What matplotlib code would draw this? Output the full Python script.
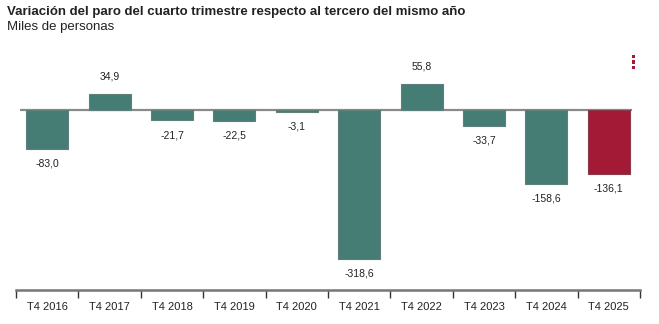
import numpy as np
import matplotlib.pyplot as plt

plt.rcParams['font.family'] = ['Liberation Sans', 'DejaVu Sans']

categories = ['T4 2016', 'T4 2017', 'T4 2018', 'T4 2019', 'T4 2020',
              'T4 2021', 'T4 2022', 'T4 2023', 'T4 2024', 'T4 2025']
values = [-83.0, 34.9, -21.7, -22.5, -3.1, -318.6, 55.8, -33.7, -158.6, -136.1]
labels = ['-83,0', '34,9', '-21,7', '-22,5', '-3,1', '-318,6', '55,8', '-33,7', '-158,6', '-136,1']

teal = '#457d74'
red = '#a31a36'
colors = [teal] * 9 + [red]
edges = ['#5f7f7a'] * 9 + ['#8a3a4a']

fig = plt.figure(figsize=(6.59, 3.24), dpi=100)
ax = fig.add_axes([16 / 659, 34 / 324, 624 / 659, (290 - 34) / 324])

x = np.arange(len(categories))
ax.bar(x, values, width=0.67, color=colors, edgecolor=edges, linewidth=0.8, zorder=2)
# zero line, a bit shorter than the axis
ax.plot([-0.44, 9.37], [0, 0], color='#8a8a8a', linewidth=1.6, zorder=1, solid_capstyle='butt')

ax.set_xlim(-0.5, len(categories) - 0.5)
ax.set_ylim(-385, 163)

for xi, v, lab in zip(x, values, labels):
    if v >= 0:
        ax.annotate(lab, (xi, v), xytext=(0, 9), textcoords='offset points',
                    ha='center', va='bottom', fontsize=7.5, color='#222222')
    else:
        ax.annotate(lab, (xi, v), xytext=(0, -7), textcoords='offset points',
                    ha='center', va='top', fontsize=7.5, color='#222222')

for s in ['top', 'right', 'left']:
    ax.spines[s].set_visible(False)
ax.spines['bottom'].set_color('#777777')
ax.spines['bottom'].set_linewidth(1.8)
ax.set_yticks([])
ax.set_xticks(np.arange(len(categories) + 1) - 0.5)
ax.set_xticklabels([])
ax.set_xticks(x, minor=True)
ax.set_xticklabels(categories, minor=True, fontsize=8, color='#222222')
ax.tick_params(axis='x', which='major', length=6, width=1, color='#333333')
ax.tick_params(axis='x', which='minor', length=0, pad=9)

fig.text(7 / 659, 1 - 12 / 324, 'Variación del paro del cuarto trimestre respecto al tercero del mismo año',
         fontsize=9.5, fontweight='bold', color='#222222', va='center')
fig.text(7 / 659, 1 - 27 / 324, 'Miles de personas', fontsize=9.5, color='#222222', va='center')

# menu dots
for yy in [55, 60.5, 66]:
    fig.patches.append(plt.Rectangle((632 / 659, 1 - (yy + 3) / 324), 3 / 659, 3 / 324,
                                     transform=fig.transFigure, color=red, linewidth=0))

fig.savefig('out.png', dpi=100)
